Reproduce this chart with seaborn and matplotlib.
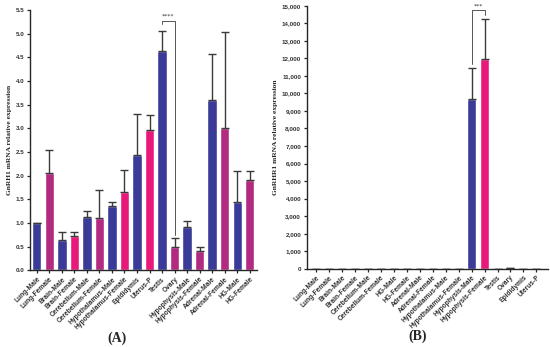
import numpy as np
import pandas as pd
import matplotlib
matplotlib.use("Agg")
import matplotlib.pyplot as plt
from matplotlib.font_manager import FontProperties
import seaborn as sns

sns.set_style("ticks")

# DATA - panel A (GnRH1)
tissues_a = ["Lung-Male", "Lung-Female", "Brain-Male", "Brain-Female", "Cerebellum-Male",
             "Cerebellum-Female", "Hypothalamus-Male", "Hypothalamus-Female", "Epididymis",
             "Uterus-P", "Testis", "Ovary", "Hypophysis-Male", "Hypophysis-Female",
             "Adrenal-Male", "Adrenal-Female", "HG-Male", "HG-Female"]
mean_a = [1.00, 2.06, 0.65, 0.73, 1.13, 1.10, 1.36, 1.66, 2.44, 2.97,
          4.63, 0.49, 0.91, 0.40, 3.61, 3.00, 1.44, 1.91]
err_a = [0.00, 0.49, 0.15, 0.08, 0.13, 0.59, 0.08, 0.46, 0.87, 0.31,
         0.42, 0.20, 0.14, 0.10, 0.97, 2.04, 0.65, 0.18]
group_a = ["m", "f2", "m", "f", "m", "f2", "m", "f", "m", "f",
           "m", "f2", "m", "f2", "m", "f2", "m", "f2"]

# DATA - panel B (GnRHR1)
tissues_b = ["Lung-Male", "Lung-Female", "Brain-Male", "Brain-Female", "Cerebellum-Male",
             "Cerebellum-Female", "HG-Male", "HG-Female", "Adrenal-Male", "Adrenal-Female",
             "Hypothalamus-Male", "Hypothalamus-Female", "Hypophysis-Male", "Hypophysis-Female",
             "Testis", "Ovary", "Epididymis", "Uterus-P"]
mean_b = [1, 1, 1, 1, 1, 1, 1, 1, 1, 1, 2, 2, 9690, 11980, 3, 40, 1, 1]
err_b = [0, 0, 0, 0, 0, 0, 0, 0, 0, 0, 0, 0, 1780, 2260, 0, 0, 0, 0]
group_b = ["m", "f", "m", "f", "m", "f", "m", "f", "m", "f",
           "m", "f", "m", "f", "m", "f", "m", "f"]

colors = {"m": "#3a3a98", "f": "#e8197a", "f2": "#b22b80"}

df_a = pd.DataFrame({"tissue": tissues_a, "value": mean_a, "group": group_a})
df_b = pd.DataFrame({"tissue": tissues_b, "value": mean_b, "group": group_b})

fig = plt.figure(figsize=(5.5, 3.47), dpi=100)
ax1 = fig.add_axes([0.0545, 0.221, 0.412, 0.7496])
ax2 = fig.add_axes([0.5576, 0.2256, 0.4387, 0.758])

tick_font = {"family": "Liberation Sans", "weight": "bold", "size": 4.8, "color": "#333333"}
label_font = {"family": "Liberation Serif", "weight": "bold", "size": 5.4}
ytick_prop = FontProperties(family="Liberation Sans", weight="bold", size=4.5)


def draw(ax, df, errs, width):
    sns.barplot(data=df, x="tissue", y="value", hue="group", palette=colors,
                dodge=False, width=width, gap=0, legend=False, ax=ax, saturation=1)
    x = np.arange(len(df))
    ax.errorbar(x, df["value"], yerr=[np.zeros(len(errs)), errs], fmt="none",
                ecolor="#3a3a3a", elinewidth=1.0, capsize=2.6, capthick=1.0)
    sns.despine(ax=ax)
    ax.spines["left"].set_linewidth(1.0)
    ax.spines["bottom"].set_linewidth(1.0)
    ax.set_xlabel("")
    ax.tick_params(axis="both", length=2.5, width=0.9, pad=1.5)
    ax.set_xticks(x)
    ax.set_xticklabels(df["tissue"], rotation=45, ha="right", rotation_mode="anchor",
                       fontdict=tick_font)


def style_yticks(ax):
    for lab in ax.get_yticklabels():
        lab.set_fontproperties(ytick_prop)
        lab.set_color("#333333")


# PANEL A
draw(ax1, df_a, err_a, 0.74)
ya = np.arange(0, 5.51, 0.5)
ax1.set_ylim(0, 5.5)
ax1.set_yticks(ya)
ax1.set_yticklabels([f"{v:.1f}" for v in ya])
style_yticks(ax1)
ax1.set_xlim(-0.55, 17.55)
ax1.set_ylabel("GnRH1 mRNA relative expression", fontdict=label_font, labelpad=3)

# significance Testis vs Ovary
ax1.plot([10, 10, 11, 11], [5.21, 5.28, 5.28, 0.75], color="#555555", lw=0.7, clip_on=False)
ax1.text(10.5, 5.33, "****", ha="center", va="bottom", fontsize=4.5, color="#333333")

# PANEL B
draw(ax2, df_b, err_b, 0.72)
yb = np.arange(0, 15001, 1000)
ax2.set_ylim(0, 15000)
ax2.set_yticks(yb)
ax2.set_yticklabels([f"{int(v):,}" for v in yb])
style_yticks(ax2)
ax2.set_xlim(-0.75, 17.9)
ax2.set_ylabel("GnRHR1 mRNA relative expression", fontdict=label_font, labelpad=3)

ax2.plot([12, 12, 13, 13], [11700, 14750, 14750, 14450], color="#555555", lw=0.7, clip_on=False)
ax2.text(12.5, 14850, "***", ha="center", va="bottom", fontsize=4.5, color="#333333")

fig.text(0.213, 0.026, "(A)", ha="center", va="center", family="Liberation Serif",
         weight="bold", fontsize=10)
fig.text(0.76, 0.03, "(B)", ha="center", va="center", family="Liberation Serif",
         weight="bold", fontsize=10)

fig.savefig("out.png", dpi=100)
